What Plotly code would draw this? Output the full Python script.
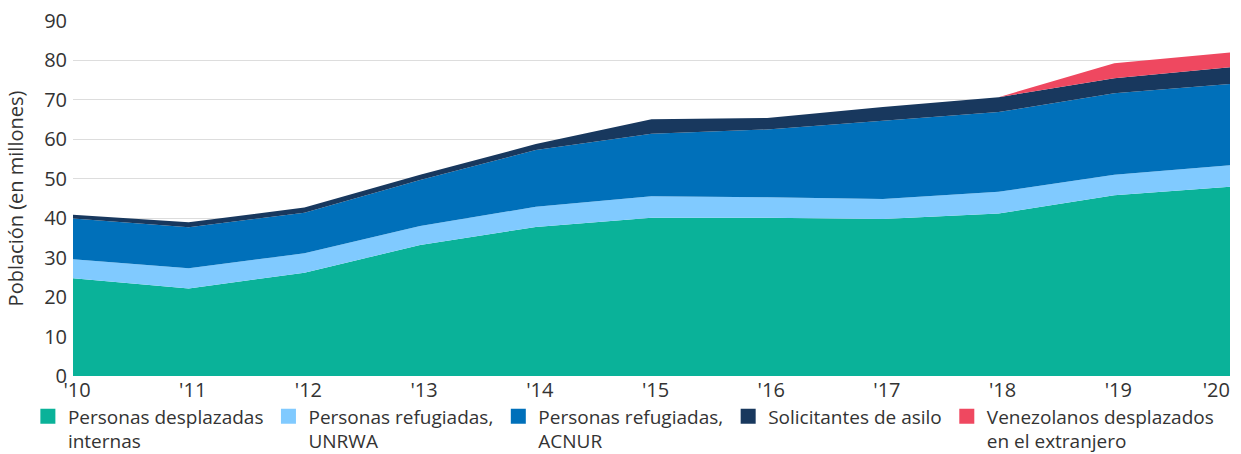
import plotly.graph_objects as go

years = [2010, 2011, 2012, 2013, 2014, 2015, 2016, 2017, 2018, 2019, 2020]
year_labels = ["'10", "'11", "'12", "'13", "'14", "'15", "'16", "'17", "'18", "'19", "'20"]

idp = [24.8, 22.2, 26.2, 33.2, 37.8, 40.1, 40.1, 39.8, 41.2, 45.8, 48.0]
unrwa = [4.8, 5.1, 4.9, 4.8, 5.1, 5.5, 5.2, 5.1, 5.5, 5.2, 5.4]
acnur = [10.3, 10.4, 10.3, 11.7, 14.4, 15.8, 17.2, 19.8, 20.2, 20.7, 20.6]
asylum = [1.0, 1.3, 1.3, 1.3, 1.5, 3.7, 2.9, 3.5, 3.8, 3.8, 4.3]
venezuela = [0, 0, 0, 0, 0, 0, 0, 0, 0, 3.8, 3.7]

series_names = [
    "Personas desplazadas<br>internas",
    "Personas refugiadas,<br>UNRWA",
    "Personas refugiadas,<br>ACNUR",
    "Solicitantes de asilo",
    "Venezolanos desplazados<br>en el extranjero",
]
series_values = [idp, unrwa, acnur, asylum, venezuela]
colors = ["#0AB299", "#80CAFF", "#0070BA", "#18385E", "#EF4860"]

FONT = "Open Sans"
TXT = "#333333"

fig = go.Figure()
for name, vals, col in zip(series_names, series_values, colors):
    fig.add_trace(go.Scatter(
        x=years, y=vals, stackgroup="one", mode="lines",
        line=dict(width=0, color=col), fillcolor=col,
        showlegend=False, hoverinfo="skip",
    ))
for name, col in zip(series_names, colors):
    fig.add_trace(go.Scatter(
        x=[None], y=[None], mode="markers", name=name,
        marker=dict(symbol="square", size=15, color=col),
    ))

fig.update_layout(
    width=1241, height=454,
    margin=dict(l=73, r=11, t=21, b=78, autoexpand=False),
    paper_bgcolor="white", plot_bgcolor="white",
    font=dict(family=FONT, size=20, color=TXT),
    legend=dict(
        orientation="h", x=-0.039, xanchor="left", y=-0.06, yanchor="top",
        font=dict(family=FONT, size=19, color=TXT),
        itemwidth=30, tracegroupgap=0, valign="top", traceorder="normal",
        bgcolor="rgba(0,0,0,0)",
    ),
    xaxis=dict(
        range=[years[0], years[-1]], tickvals=years[:-1], ticktext=year_labels[:-1],
        showgrid=False, zeroline=False, showline=False, ticks="",
        tickfont=dict(size=20, color=TXT), automargin=False,
        ticklabelshift=4,
    ),
    xaxis2=dict(
        range=[years[0], years[-1]], overlaying="x", side="bottom",
        tickvals=years[-1:], ticktext=year_labels[-1:],
        ticklabelposition="outside left",
        showgrid=False, zeroline=False, showline=False, ticks="",
        tickfont=dict(size=20, color=TXT), automargin=False,
    ),
    yaxis=dict(
        range=[0, 90], tickvals=list(range(0, 100, 10)),
        showgrid=True, gridcolor="#DDDDDD", gridwidth=1,
        zeroline=False, showline=False, ticks="",
        tickfont=dict(size=20, color=TXT), automargin=False,
        ticklabelstandoff=5,
        title=dict(text="Población (en millones)", font=dict(size=20, color=TXT)),
    ),
)
# invisible trace to activate the second x axis
fig.add_trace(go.Scatter(x=[years[-1]], y=[None], xaxis="x2", showlegend=False,
                         hoverinfo="skip", mode="markers", marker=dict(opacity=0)))

fig.write_html(
    "out.html",
    config={"displayModeBar": False},
    post_script="document.body.style.margin='0';document.body.style.overflow='hidden';",
)
